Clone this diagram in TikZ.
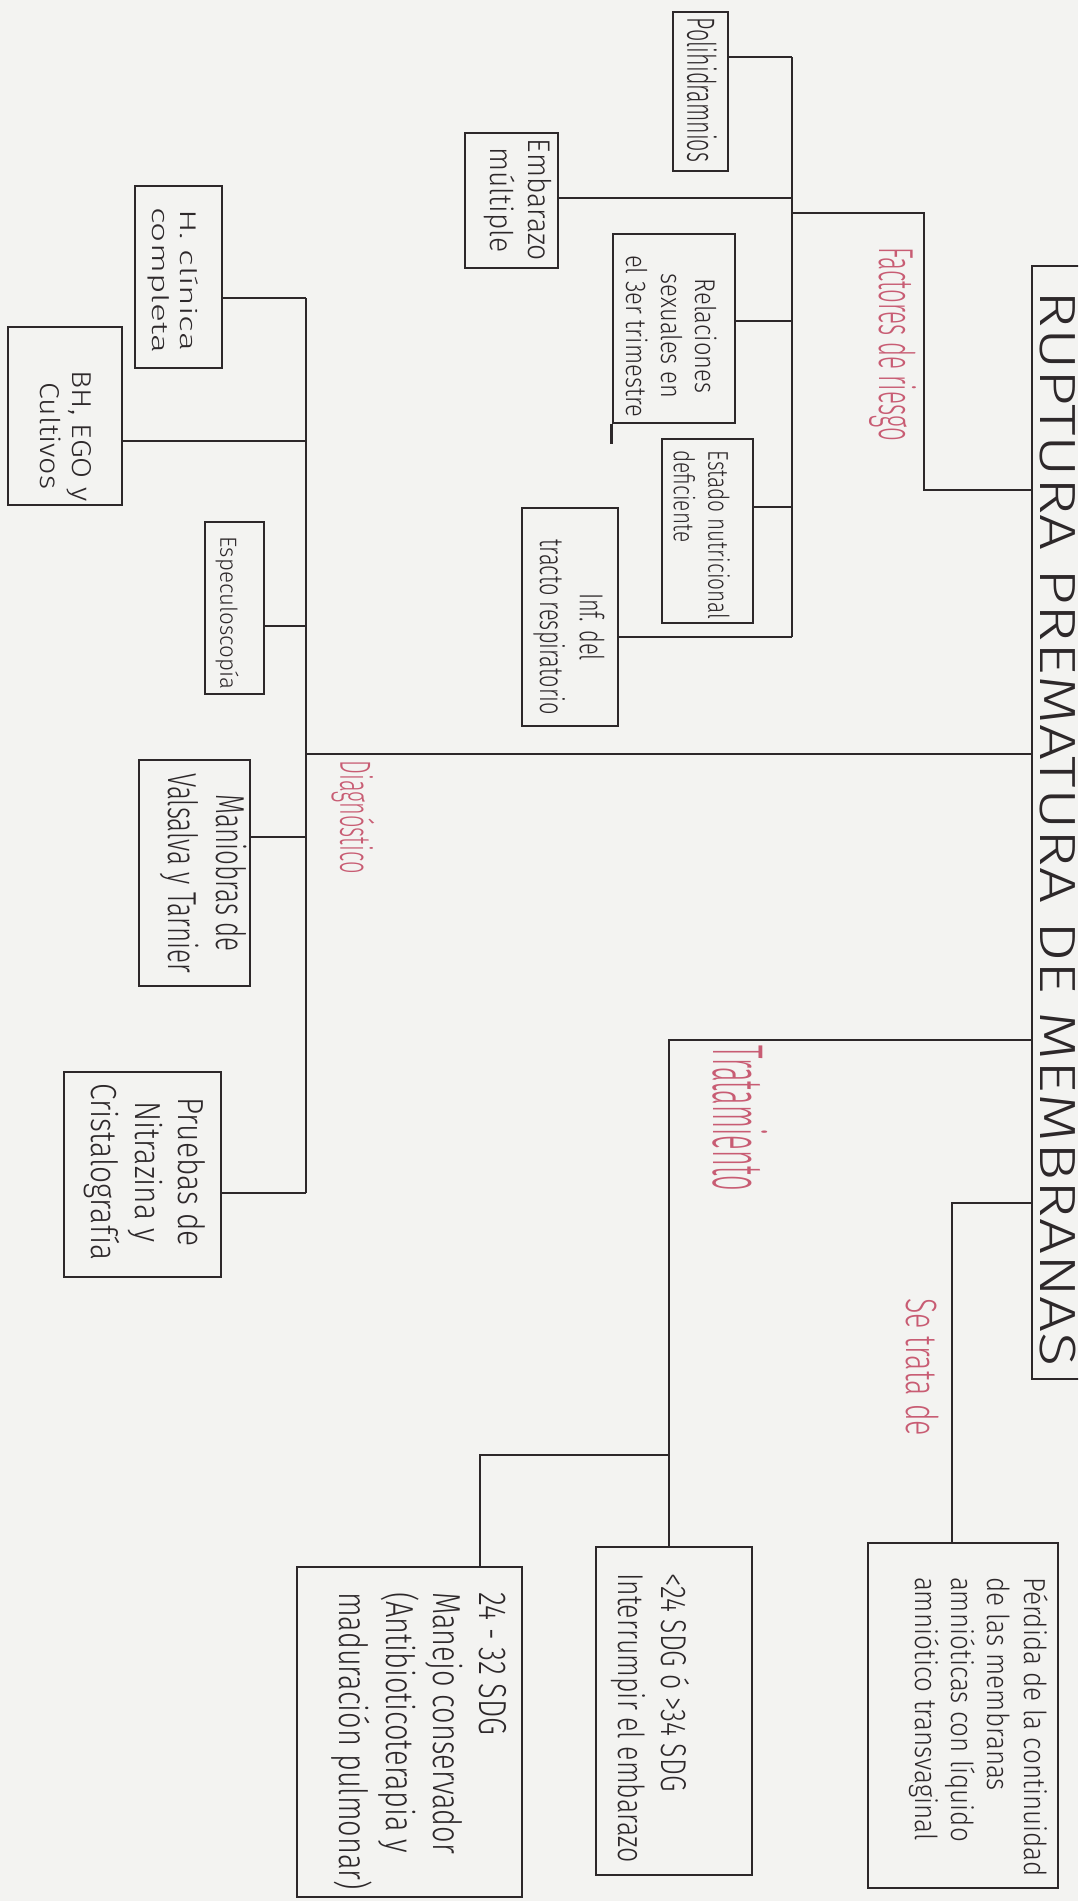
\documentclass[tikz,border=0pt]{standalone}
\usepackage{fontspec}
\IfFontExistsTF{Fira Sans Light}{\setmainfont{Fira Sans Light}}{\setmainfont{Fira Sans}}
\usepackage{graphicx}
\usetikzlibrary{fit}
\definecolor{ink}{RGB}{45,40,42}
\definecolor{redink}{RGB}{200,92,115}
\definecolor{paper}{RGB}{243,243,241}
% multi-line vertical text: [align]{length}{thickness}{lines}
\newcommand\vtm[4][c]{\rotatebox{-90}{\resizebox*{#2}{#3}{\fontsize{10}{12}\selectfont\begin{tabular}{@{}#1@{}}#4\end{tabular}}}}
% single-line vertical text
\newcommand\vts[3]{\rotatebox{-90}{\resizebox*{#1}{#2}{\fontsize{10}{12}\selectfont #3}}}
\begin{document}
\begin{tikzpicture}[x=0.5pt,y=-0.5pt,
  bx/.style={draw=ink,line width=1.3pt,inner sep=0pt,rectangle},
  txt/.style={inner sep=0pt,text=ink},
  lbl/.style={inner sep=0pt,text=redink},
  link/.style={draw=ink,line width=1.3pt}]
\useasboundingbox (0,0) rectangle (1078,1901);
\clip (0,0) rectangle (1078,1901);
\fill[paper] (0,0) rectangle (1078,1901);

% ---------- title ----------
\node[bx,fit={(1032,266) (1110,1379)}] (title) {};
\node[txt] (titlet) at (1058,829) {\vts{538pt}{18pt}{RUPTURA PREMATURA DE MEMBRANAS}};

% ---------- factores de riesgo ----------
\node[bx,fit={(673,12) (728,171)}] (poli) {};
\node[txt] (polit) at (702,90) {\vts{72pt}{15pt}{Polihidramnios}};
\node[bx,fit={(465,133) (558,268)}] (emb) {};
\node[txt] (embt) at (517,200) {\vtm{61pt}{37.6pt}{Embarazo\\múltiple}};
\node[bx,fit={(613,234) (735,423)}] (rel) {};
\node[txt] (relt) at (668,336) {\vtm{81pt}{51.4pt}{Relaciones\\sexuales en\\el 3er trimestre}};
\node[bx,fit={(662,439) (753,623)}] (est) {};
\node[txt] (estt) at (698,535) {\vtm[l]{84.5pt}{34.3pt}{Estado nutricional\\deficiente}};
\node[bx,fit={(522,508) (618,726)}] (inf) {};
\node[txt] (inft) at (568,627) {\vtm{87.5pt}{39.8pt}{Inf. del\\tracto respiratorio}};
\node[lbl] (factl) at (893,344) {\vts{97pt}{23.5pt}{Factores de riesgo}};
\draw[link] (rel.south west) -- ++(0,20);

\coordinate (v1t) at (792,57);
\coordinate (v1b) at (792,637);
\coordinate (jemb) at (792,198);
\coordinate (jfac) at (792,213);
\coordinate (jrel) at (792,321);
\coordinate (jest) at (792,507);
\coordinate (tfac) at (1032,490);
\draw[link] (v1t) -- (v1b);
\draw[link] (poli.east |- v1t) -- (v1t);
\draw[link] (emb.east |- jemb) -- (jemb);
\draw[link] (rel.east |- jrel) -- (jrel);
\draw[link] (est.east |- jest) -- (jest);
\draw[link] (inf.east |- v1b) -- (v1b);
\draw[link] (jfac) -- ++(132,0) |- (title.west |- tfac);

% ---------- diagnostico ----------
\node[bx,fit={(135,186) (222,368)}] (hcl) {};
\node[txt] (hclt) at (172,280) {\vtm{73pt}{27.3pt}{H. clínica\\completa}};
\node[bx,fit={(8,327) (122,505)}] (bh) {};
\node[txt] (bht) at (63,436) {\vtm{65.5pt}{32.7pt}{BH, EGO y\\Cultivos}};
\node[bx,fit={(205,522) (264,694)}] (esp) {};
\node[txt] (espt) at (227,613) {\vts{76.5pt}{11.5pt}{Especuloscopía}};
\node[bx,fit={(139,760) (250,986)}] (man) {};
\node[txt] (mant) at (202,873) {\vtm{100pt}{48.5pt}{Maniobras de\\Valsalva y Tarnier}};
\node[bx,fit={(64,1072) (221,1277)}] (pru) {};
\node[txt] (prut) at (144,1172) {\vtm{88.5pt}{65.2pt}{Pruebas de\\Nitrazina y\\Cristalografía}};
\node[lbl] (diagl) at (353,817) {\vts{56.5pt}{21.5pt}{Diagnóstico}};

\coordinate (v2t) at (306,298);
\coordinate (v2b) at (306,1193);
\coordinate (jbh) at (306,441);
\coordinate (jesp) at (306,626);
\coordinate (jdiag) at (306,754);
\coordinate (jman) at (306,837);
\draw[link] (v2t) -- (v2b);
\draw[link] (hcl.east |- v2t) -- (v2t);
\draw[link] (bh.east |- jbh) -- (jbh);
\draw[link] (esp.east |- jesp) -- (jesp);
\draw[link] (man.east |- jman) -- (jman);
\draw[link] (pru.east |- v2b) -- (v2b);
\draw[link] (jdiag) -- (title.west |- jdiag);

% ---------- tratamiento ----------
\node[bx,fit={(596,1547) (752,1875)}] (l24) {};
\node[txt] (l24t) at (649,1718) {\vtm[l]{145pt}{43pt}{<24 SDG ó >34 SDG\\Interrumpir el embarazo}};
\node[bx,fit={(297,1567) (522,1897)}] (m2432) {};
\node[txt] (m2432t) at (419,1741) {\vtm[l]{149pt}{93.6pt}{24 - 32 SDG\\Manejo conservador\\(Antibioticoterapia y\\maduración pulmonar)}};
\node[lbl] (tratl) at (740,1118) {\vts{72.5pt}{27.5pt}{Tratamiento}};

\coordinate (ctr) at (669,1040);
\coordinate (jbr) at (669,1455);
\coordinate (cbr) at (480,1455);
\draw[link] (title.west |- ctr) -- (ctr) -- (ctr |- l24.north);
\draw[link] (jbr) -- (cbr) -- (cbr |- m2432.north);

% ---------- se trata de ----------
\node[bx,fit={(868,1543) (1058,1888)}] (per) {};
\node[txt] (pert) at (977,1727) {\vtm[l]{150pt}{72.8pt}{Pérdida de la continuidad\\de las membranas\\amnióticas con líquido\\amniótico transvaginal}};
\node[lbl] (setl) at (923,1367) {\vts{69pt}{16.5pt}{Se trata de}};

\coordinate (cse) at (952,1203);
\draw[link] (title.west |- cse) -- (cse) -- (cse |- per.north);
\end{tikzpicture}
\end{document}
